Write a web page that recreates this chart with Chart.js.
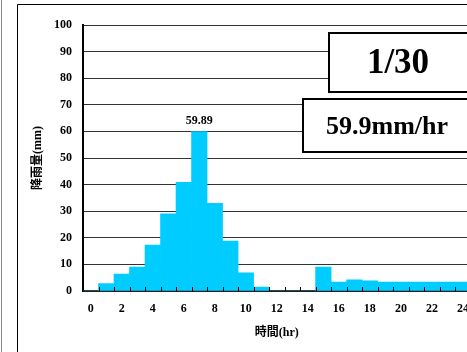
<!DOCTYPE html>
<html>
<head>
<meta charset="utf-8">
<script src="https://cdn.jsdelivr.net/npm/chart.js@4"></script>
<style>
  html, body { margin: 0; padding: 0; background: #fff; overflow: hidden; }
  #wrap { width: 467px; height: 352px; overflow: hidden; }
  canvas { display: block; }
</style>
</head>
<body>
<div id="wrap"><canvas id="rain" width="480" height="352"></canvas></div>
<script>
// hourly rainfall, 1/30
const hours = [0, 1, 2, 3, 4, 5, 6, 7, 8, 9, 10, 11, 12, 13, 14, 15, 16, 17, 18, 19, 20, 21, 22, 23, 24];
const rain = [0, 2.8, 6.4, 9.0, 17.3, 29.0, 40.9, 59.89, 33.0, 18.8, 6.8, 1.5, 0, 0, 0, 9.0, 3.4, 4.2, 3.8, 3.4, 3.4, 3.4, 3.4, 3.4, 3.4];
const dateText = '1/30';
const peakText = '59.9mm/hr';

const FONT = "'Liberation Serif', 'Noto Sans CJK JP', serif";

const extras = {
  id: 'extras',
  afterDatasetsDraw(chart) {
    const ctx = chart.ctx;
    const xs = chart.scales.x, ys = chart.scales.y;
    const bottom = chart.chartArea.bottom;
    ctx.save();
    // small inside ticks between hours
    ctx.strokeStyle = '#000';
    ctx.lineWidth = 1;
    for (let i = 1; i < hours.length; i++) {
      const x = Math.round((xs.getPixelForValue(i - 1) + xs.getPixelForValue(i)) / 2) + 0.5;
      ctx.beginPath();
      ctx.moveTo(x, bottom);
      ctx.lineTo(x, bottom - 4);
      ctx.stroke();
    }
    // value label on the peak bar
    let idx = 0;
    rain.forEach((v, i) => { if (v > rain[idx]) idx = i; });
    ctx.fillStyle = '#000';
    ctx.font = 'bold 12px ' + FONT;
    ctx.textAlign = 'center';
    ctx.textBaseline = 'alphabetic';
    ctx.fillText(rain[idx].toFixed(2), xs.getPixelForValue(idx), ys.getPixelForValue(rain[idx]) - 8);
    ctx.restore();
  },
  afterDraw(chart) {
    const ctx = chart.ctx;
    ctx.save();
    // outer frame
    ctx.strokeStyle = '#888';
    ctx.lineWidth = 1;
    ctx.beginPath();
    ctx.moveTo(1.5, 0); ctx.lineTo(1.5, 352);
    ctx.stroke();
    ctx.strokeStyle = '#000';
    ctx.beginPath();
    ctx.moveTo(17.5, 352); ctx.lineTo(17.5, 4.5); ctx.lineTo(480, 4.5);
    ctx.stroke();
    // text boxes
    ctx.lineWidth = 2;
    ctx.fillStyle = '#fff';
    ctx.fillRect(329, 33, 140, 59);
    ctx.strokeRect(329, 33, 140, 59);
    ctx.fillRect(303, 99, 168, 53);
    ctx.strokeRect(303, 99, 168, 53);
    ctx.fillStyle = '#000';
    ctx.textAlign = 'center';
    ctx.textBaseline = 'middle';
    ctx.font = 'bold 35px ' + FONT;
    ctx.fillText(dateText, 398, 64);
    ctx.font = 'bold 26px ' + FONT;
    ctx.fillText(peakText, 387, 127);
    ctx.restore();
  }
};

new Chart(document.getElementById('rain'), {
  type: 'bar',
  data: {
    labels: hours,
    datasets: [{
      data: rain,
      backgroundColor: '#00CCFF',
      borderWidth: 0,
      barPercentage: 1,
      categoryPercentage: 1
    }]
  },
  options: {
    responsive: false,
    animation: false,
    layout: { padding: { top: 25, right: 5, left: 0, bottom: 0 } },
    plugins: { legend: { display: false }, tooltip: { enabled: false } },
    scales: {
      x: {
        grid: { display: false, drawTicks: false },
        border: { color: '#222', width: 2 },
        ticks: {
          autoSkip: false, maxRotation: 0, padding: 11, color: '#000',
          font: { family: FONT, size: 12, weight: 'bold' },
          callback: (v, i) => (i % 2 === 0 ? hours[i] : '')
        },
        title: {
          display: true, text: '時間(hr)', color: '#000',
          font: { family: FONT, size: 12, weight: 'bold' },
          padding: { top: 4, bottom: 12 }
        },
        afterFit: s => { s.height = 61; }
      },
      y: {
        min: 0, max: 100,
        grid: { color: '#333', lineWidth: 1, drawTicks: false },
        border: { color: '#000', width: 2 },
        ticks: {
          stepSize: 10, padding: 11, color: '#000',
          font: { family: FONT, size: 12, weight: 'bold' }
        },
        title: {
          display: true, text: '降雨量(mm)', color: '#000',
          font: { family: FONT, size: 12, weight: 'bold' },
          padding: { top: 31, bottom: 0 }
        },
        afterFit: s => { s.width = 83; }
      }
    }
  },
  plugins: [extras]
});
</script>
</body>
</html>
